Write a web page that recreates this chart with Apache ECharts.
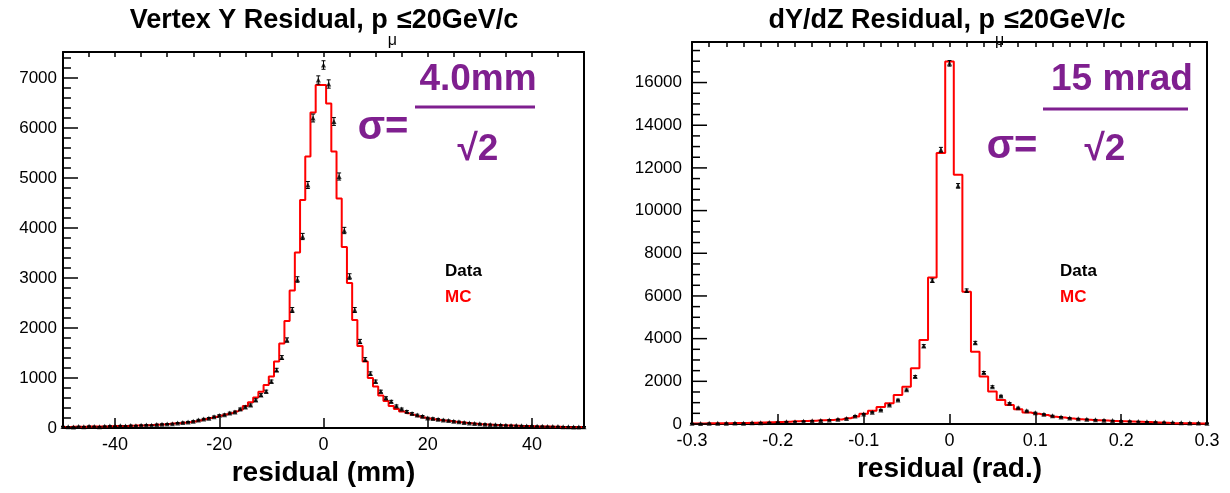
<!DOCTYPE html>
<html>
<head>
<meta charset="utf-8">
<script src="https://cdn.jsdelivr.net/npm/echarts@6/dist/echarts.min.js"></script>
<style>
  html, body { margin: 0; padding: 0; background: #fff; }
  #chart { width: 1230px; height: 493px; }
</style>
</head>
<body>
<div id="chart"></div>
<script>
// Vertex Y residual, 1 mm bins centred on integers, -50..50
const vertexBins = Array.from({ length: 101 }, (_, i) => i - 50);
const vertexMC = [
  22, 20, 25, 25, 25, 28, 30, 30, 32, 35,
  38, 40, 42, 45, 48, 50, 55, 60, 65, 72,
  80, 88, 95, 105, 115, 130, 150, 175, 200, 220,
  245, 270, 295, 330, 365, 440, 515, 610, 725, 860,
  1030, 1330, 1690, 2140, 2750, 3510, 4560, 5430, 6310, 6860,
  6860, 6490, 5530, 4590, 3620, 2900, 2160, 1640, 1330, 1000,
  830, 650, 540, 440, 380, 330, 295, 265, 235, 210,
  190, 175, 160, 150, 140, 125, 115, 105, 95, 85,
  75, 70, 65, 60, 55, 50, 48, 45, 40, 38,
  35, 30, 30, 28, 25, 25, 22, 20, 20, 20, 22
];
const vertexData = [
  30, 25, 20, 30, 25, 35, 30, 25, 35, 40,
  35, 45, 40, 50, 45, 55, 60, 55, 70, 75,
  80, 85, 100, 110, 120, 135, 160, 180, 195, 225,
  250, 265, 300, 320, 380, 420, 460, 560, 660, 730,
  930, 1160, 1410, 1760, 2360, 2970, 3830, 4860, 6200, 6960,
  7260, 6880, 6130, 5030, 3950, 3030, 2360, 1730, 1370, 1090,
  930, 730, 600, 530, 440, 380, 330, 290, 260, 235,
  200, 190, 175, 160, 150, 135, 125, 110, 100, 90,
  85, 75, 70, 65, 60, 55, 50, 48, 45, 40,
  40, 35, 35, 30, 30, 28, 25, 25, 22, 20, 25
];
const vertexErr = [
  5, 5, 4, 5, 5, 6, 5, 5, 6, 6,
  6, 7, 6, 7, 7, 7, 8, 7, 8, 9,
  9, 9, 10, 10, 11, 12, 13, 13, 14, 15,
  16, 16, 17, 18, 19, 20, 21, 24, 26, 27,
  30, 34, 38, 42, 49, 55, 62, 70, 79, 83,
  85, 83, 78, 71, 63, 55, 49, 42, 37, 33,
  30, 27, 24, 23, 21, 19, 18, 17, 16, 15,
  14, 14, 13, 13, 12, 12, 11, 10, 10, 9,
  9, 9, 8, 8, 8, 7, 7, 7, 7, 6,
  6, 6, 6, 5, 5, 5, 5, 5, 5, 4, 5
];
const vertexTickLabels = [-40, -20, 0, 20, 40];

// dY/dZ residual, 0.01 rad bins centred on multiples of 0.01, -0.3..0.3
const slopeBins = Array.from({ length: 61 }, (_, i) => (i - 30) / 100);
const slopeMC = [
  20, 25, 30, 35, 40, 45, 50, 60, 70, 80,
  95, 110, 125, 140, 155, 170, 185, 210, 270, 350,
  480, 620, 800, 970, 1360, 1750, 2610, 3940, 6860, 12700,
  16990, 11680, 6200, 3390, 2220, 1520, 1130, 890, 690, 540,
  480, 420, 340, 300, 260, 225, 200, 180, 160, 145,
  130, 120, 105, 90, 75, 60, 40, 35, 30, 25, 25
];
const slopeData = [
  30, 25, 35, 30, 40, 45, 40, 55, 60, 70,
  85, 100, 110, 130, 150, 165, 190, 220, 260, 380,
  470, 550, 660, 890, 1130, 1600, 2220, 3660, 6720, 12850,
  16900, 11160, 6250, 3810, 2410, 1750, 1310, 970, 760, 620,
  530, 460, 390, 330, 280, 250, 220, 200, 180, 160,
  140, 130, 115, 100, 90, 80, 70, 60, 50, 45, 40
];
const slopeErr = [
  5, 5, 6, 5, 6, 7, 6, 7, 8, 8,
  9, 10, 10, 11, 12, 13, 14, 15, 16, 19,
  22, 23, 26, 30, 34, 40, 47, 60, 82, 113,
  130, 106, 79, 62, 49, 42, 36, 31, 28, 25,
  23, 21, 20, 18, 17, 16, 15, 14, 13, 13,
  12, 11, 11, 10, 9, 9, 8, 8, 7, 7, 6
];

const FONT = '"Liberation Sans", Arial, Helvetica, sans-serif';
const PURPLE = '#7f1f8f';

const chart = echarts.init(document.getElementById('chart'));

const pairs = (xs, ys) => xs.map((x, i) => [x, ys[i]]);
const ranges = (xs, ys, es) => xs.map((x, i) => [x, ys[i] - es[i], ys[i] + es[i]]);
const plain = v => String(v);
const frameLine = { show: true, onZero: false, lineStyle: { color: '#000', width: 2 } };

// y ticks: [xAtLeftEdge, value, isMajor]; drawn through the axes below
function yTicks(xMin, max, minorStep, majorStep) {
  const rows = [];
  for (let v = 0; v <= max; v += minorStep) rows.push([xMin, v, v % majorStep === 0 ? 1 : 0]);
  return rows;
}

function renderYTick(params, api) {
  const p = api.coord([api.value(0), api.value(1)]);
  const len = api.value(2) ? 15 : 8;
  return {
    type: 'line',
    shape: { x1: p[0], y1: p[1], x2: p[0] + len, y2: p[1] },
    style: { stroke: '#000', lineWidth: 1.5 }
  };
}

function renderErrorBar(params, api) {
  const x = api.value(0);
  const lo = api.coord([x, api.value(1)]);
  const hi = api.coord([x, api.value(2)]);
  const c = 2;
  const st = { stroke: '#000', lineWidth: 1 };
  return {
    type: 'group',
    children: [
      { type: 'line', shape: { x1: lo[0], y1: lo[1], x2: hi[0], y2: hi[1] }, style: st },
      { type: 'line', shape: { x1: lo[0] - c, y1: lo[1], x2: lo[0] + c, y2: lo[1] }, style: st },
      { type: 'line', shape: { x1: hi[0] - c, y1: hi[1], x2: hi[0] + c, y2: hi[1] }, style: st }
    ]
  };
}

function mainX(grid, min, max, name, opts) {
  return Object.assign({
    gridIndex: grid, type: 'value', min: min, max: max,
    axisLine: frameLine,
    axisTick: { show: true, inside: true, length: 10, lineStyle: { color: '#000', width: 1.5 } },
    axisLabel: { color: '#000', fontSize: 18, fontFamily: FONT, margin: 8, formatter: plain },
    splitLine: { show: false },
    name: name, nameLocation: 'middle', nameGap: 28,
    nameTextStyle: { color: '#000', fontSize: 28, fontWeight: 'bold', fontFamily: FONT }
  }, opts);
}

function minorX(grid, min, max, interval) {
  return {
    gridIndex: grid, type: 'value', min: min, max: max, interval: interval,
    axisLine: { show: false, onZero: false },
    axisTick: { show: true, inside: true, length: 5, lineStyle: { color: '#000', width: 1.5 } },
    axisLabel: { show: false },
    splitLine: { show: false }
  };
}

function topX(grid) {
  return {
    gridIndex: grid, type: 'value', min: 0, max: 1, position: 'top',
    axisLine: frameLine, axisTick: { show: false }, axisLabel: { show: false }, splitLine: { show: false }
  };
}

function yAx(grid, max, interval, margin) {
  return {
    gridIndex: grid, type: 'value', min: 0, max: max, interval: interval, position: 'left',
    axisLine: frameLine,
    axisTick: { show: false },
    minorTick: { show: false },
    axisLabel: { color: '#000', fontSize: 17, fontFamily: FONT, margin: margin, showMaxLabel: false, formatter: plain },
    splitLine: { show: false }
  };
}

function rightY(grid, max) {
  return {
    gridIndex: grid, type: 'value', min: 0, max: max, position: 'right',
    axisLine: frameLine, axisTick: { show: false }, axisLabel: { show: false }, splitLine: { show: false }
  };
}

function histSeries(xi, yi, bins, mc, data, err) {
  return [
    {
      type: 'line', xAxisIndex: xi, yAxisIndex: yi, step: 'middle',
      data: pairs(bins, mc), symbol: 'none', z: 2,
      lineStyle: { color: '#ff0000', width: 2 }
    },
    {
      type: 'custom', xAxisIndex: xi, yAxisIndex: yi, z: 3,
      data: ranges(bins, data, err), renderItem: renderErrorBar,
      encode: { x: 0, y: [1, 2] }
    },
    {
      type: 'scatter', xAxisIndex: xi, yAxisIndex: yi, z: 4,
      data: pairs(bins, data), symbol: 'triangle', symbolSize: 5,
      itemStyle: { color: '#000' }
    }
  ];
}

function tickSeries(xi, yi, rows) {
  return {
    type: 'custom', xAxisIndex: xi, yAxisIndex: yi, z: 5, silent: true,
    data: rows, renderItem: renderYTick, encode: { x: 0, y: 1 }
  };
}

function txt(x, y, text, size, color, align) {
  return {
    type: 'text', x: x, y: y, z: 10,
    style: {
      text: text, fill: color, fontSize: size, fontWeight: 'bold', fontFamily: FONT,
      textAlign: align, textVerticalAlign: 'middle', align: align, verticalAlign: 'middle'
    }
  };
}

function titleRich(x, text1, text2) {
  return {
    type: 'text', x: x, y: -7, z: 10,
    style: {
      text: '{a|' + text1 + '}{s|μ}{a|' + text2 + '}',
      textAlign: 'center', align: 'center', textVerticalAlign: 'top', verticalAlign: 'top',
      rich: {
        a: { fontSize: 27, fontWeight: 'bold', fontFamily: FONT, color: '#000', lineHeight: 56, verticalAlign: 'middle' },
        s: { fontSize: 16, fontFamily: FONT, color: '#000', lineHeight: 16, verticalAlign: 'bottom' }
      }
    }
  };
}

function fracBar(x1, x2, y) {
  return {
    type: 'line', z: 10,
    shape: { x1: x1, y1: y, x2: x2, y2: y },
    style: { stroke: PURPLE, lineWidth: 3 }
  };
}

chart.setOption({
  animation: false,
  backgroundColor: '#fff',
  grid: [
    { left: 63, top: 52, width: 521, height: 376, show: false },
    { left: 692, top: 42, width: 515, height: 382, show: false }
  ],
  xAxis: [
    mainX(0, -50, 50, 'residual (mm)', {
      axisTick: { show: true, inside: true, length: 10, customValues: vertexTickLabels, lineStyle: { color: '#000', width: 1.5 } },
      axisLabel: { color: '#000', fontSize: 18, fontFamily: FONT, margin: 8, customValues: vertexTickLabels, formatter: plain }
    }),
    minorX(0, -50, 50, 5),
    mainX(1, -0.3, 0.3, 'residual (rad.)', { interval: 0.1 }),
    minorX(1, -0.3, 0.3, 0.02),
    topX(0),
    topX(1)
  ],
  yAxis: [
    yAx(0, 7520, 1000, 6),
    yAx(1, 17900, 2000, 10),
    rightY(0, 7520),
    rightY(1, 17900)
  ],
  series: [].concat(
    histSeries(0, 0, vertexBins, vertexMC, vertexData, vertexErr),
    histSeries(2, 1, slopeBins, slopeMC, slopeData, slopeErr),
    [
      tickSeries(0, 0, yTicks(-50, 7520, 200, 1000)),
      tickSeries(2, 1, yTicks(-0.3, 17900, 500, 2000))
    ]
  ),
  graphic: [
    titleRich(324, 'Vertex Y Residual, p', '≤20GeV/c'),
    titleRich(947, 'dY/dZ Residual, p', '≤20GeV/c'),
    txt(445, 271, 'Data', 17, '#000', 'left'),
    txt(445, 297, 'MC', 17, '#ff0000', 'left'),
    txt(1060, 271, 'Data', 17, '#000', 'left'),
    txt(1060, 297, 'MC', 17, '#ff0000', 'left'),
    txt(383, 128, 'σ=', 40, PURPLE, 'center'),
    txt(478, 80, '4.0mm', 37, PURPLE, 'center'),
    fracBar(415, 535, 107),
    txt(478, 150, '√2', 37, PURPLE, 'center'),
    txt(1012, 147, 'σ=', 40, PURPLE, 'center'),
    txt(1122, 80, '15 mrad', 37, PURPLE, 'center'),
    fracBar(1043, 1188, 109),
    txt(1105, 150, '√2', 37, PURPLE, 'center')
  ]
});
</script>
</body>
</html>
